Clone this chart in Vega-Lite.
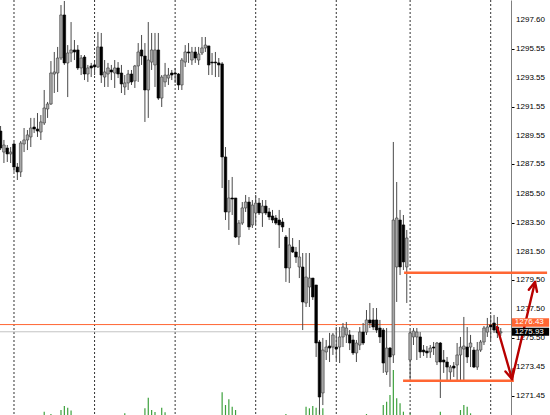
{
"$schema":"https://vega.github.io/schema/vega-lite/v6.json",
"width":511,"height":415,"autosize":"none","padding":{"left":0,"top":0,"bottom":0,"right":39},"background":"white",
"config":{"view":{"stroke":null}},
"datasets":{
"candles":[
{"i":-4,"o":1289.87,"h":1290.22,"l":1288.55,"c":1288.69},
{"i":-3,"o":1288.41,"h":1289.25,"l":1287.65,"c":1288.90},
{"i":-2,"o":1288.69,"h":1288.90,"l":1287.72,"c":1288.28},
{"i":-1,"o":1288.28,"h":1288.76,"l":1287.65,"c":1288.41},
{"i":0,"o":1288.97,"h":1289.11,"l":1287.03,"c":1287.37},
{"i":1,"o":1287.37,"h":1287.65,"l":1286.47,"c":1287.03},
{"i":2,"o":1287.03,"h":1289.18,"l":1286.68,"c":1289.04},
{"i":3,"o":1288.97,"h":1290.08,"l":1288.41,"c":1289.25},
{"i":4,"o":1289.25,"h":1289.94,"l":1288.55,"c":1289.60},
{"i":5,"o":1289.46,"h":1290.78,"l":1288.76,"c":1290.08},
{"i":6,"o":1290.15,"h":1290.78,"l":1289.73,"c":1290.01},
{"i":7,"o":1290.01,"h":1291.12,"l":1289.46,"c":1289.87},
{"i":8,"o":1289.80,"h":1290.98,"l":1289.25,"c":1290.50},
{"i":9,"o":1290.43,"h":1292.72,"l":1290.29,"c":1291.47},
{"i":10,"o":1291.40,"h":1291.89,"l":1290.78,"c":1291.75},
{"i":11,"o":1291.75,"h":1294.73,"l":1291.68,"c":1293.90},
{"i":12,"o":1293.83,"h":1295.36,"l":1292.51,"c":1293.97},
{"i":13,"o":1293.90,"h":1295.71,"l":1292.58,"c":1294.94},
{"i":14,"o":1294.94,"h":1298.62,"l":1294.80,"c":1297.93},
{"i":15,"o":1297.93,"h":1298.90,"l":1294.46,"c":1294.60},
{"i":16,"o":1294.60,"h":1295.84,"l":1292.23,"c":1295.29},
{"i":17,"o":1295.29,"h":1297.44,"l":1294.66,"c":1295.50},
{"i":18,"o":1295.50,"h":1296.19,"l":1294.80,"c":1295.36},
{"i":19,"o":1295.50,"h":1295.84,"l":1294.11,"c":1294.25},
{"i":20,"o":1294.25,"h":1295.15,"l":1293.76,"c":1294.94},
{"i":21,"o":1295.01,"h":1295.15,"l":1293.41,"c":1293.83},
{"i":22,"o":1293.83,"h":1294.46,"l":1293.28,"c":1294.25},
{"i":23,"o":1294.39,"h":1294.60,"l":1293.62,"c":1294.25},
{"i":24,"o":1294.46,"h":1294.66,"l":1293.76,"c":1294.32},
{"i":25,"o":1294.32,"h":1296.75,"l":1294.25,"c":1295.71},
{"i":26,"o":1295.71,"h":1296.68,"l":1293.21,"c":1293.76},
{"i":27,"o":1293.62,"h":1294.80,"l":1292.93,"c":1293.97},
{"i":28,"o":1293.83,"h":1294.60,"l":1292.93,"c":1294.25},
{"i":29,"o":1294.11,"h":1294.46,"l":1293.41,"c":1293.97},
{"i":30,"o":1293.90,"h":1294.80,"l":1292.86,"c":1294.25},
{"i":31,"o":1294.25,"h":1294.66,"l":1293.55,"c":1293.83},
{"i":32,"o":1293.90,"h":1294.46,"l":1292.51,"c":1293.14},
{"i":33,"o":1292.93,"h":1293.76,"l":1292.37,"c":1293.21},
{"i":34,"o":1293.21,"h":1294.11,"l":1292.72,"c":1293.83},
{"i":35,"o":1293.83,"h":1294.11,"l":1293.07,"c":1293.28},
{"i":36,"o":1293.35,"h":1294.46,"l":1292.86,"c":1294.39},
{"i":37,"o":1294.39,"h":1295.98,"l":1293.28,"c":1295.36},
{"i":38,"o":1295.50,"h":1296.54,"l":1294.46,"c":1295.08},
{"i":39,"o":1295.08,"h":1295.98,"l":1290.50,"c":1292.72},
{"i":40,"o":1292.72,"h":1297.44,"l":1290.78,"c":1294.80},
{"i":41,"o":1294.66,"h":1296.68,"l":1294.11,"c":1295.50},
{"i":42,"o":1294.46,"h":1296.68,"l":1292.93,"c":1295.50},
{"i":43,"o":1295.50,"h":1296.68,"l":1292.03,"c":1292.16},
{"i":44,"o":1292.16,"h":1293.76,"l":1291.54,"c":1293.62},
{"i":45,"o":1293.28,"h":1294.60,"l":1292.93,"c":1293.76},
{"i":46,"o":1293.55,"h":1294.25,"l":1293.07,"c":1293.76},
{"i":47,"o":1293.90,"h":1294.11,"l":1293.41,"c":1293.76},
{"i":48,"o":1293.90,"h":1294.25,"l":1293.21,"c":1293.83},
{"i":49,"o":1293.83,"h":1293.90,"l":1292.72,"c":1293.07},
{"i":50,"o":1293.07,"h":1294.94,"l":1292.72,"c":1294.80},
{"i":51,"o":1294.66,"h":1295.84,"l":1294.32,"c":1295.36},
{"i":52,"o":1295.36,"h":1295.98,"l":1294.60,"c":1295.29},
{"i":53,"o":1294.80,"h":1295.71,"l":1294.46,"c":1295.36},
{"i":54,"o":1295.36,"h":1295.71,"l":1294.60,"c":1294.94},
{"i":55,"o":1294.80,"h":1295.71,"l":1294.46,"c":1295.22},
{"i":56,"o":1295.29,"h":1296.40,"l":1295.15,"c":1295.64},
{"i":57,"o":1295.64,"h":1296.40,"l":1295.36,"c":1295.84},
{"i":58,"o":1295.78,"h":1295.78,"l":1293.76,"c":1294.46},
{"i":59,"o":1294.66,"h":1295.29,"l":1293.76,"c":1294.60},
{"i":60,"o":1294.66,"h":1295.36,"l":1293.62,"c":1294.60},
{"i":61,"o":1294.60,"h":1294.94,"l":1293.62,"c":1294.46},
{"i":62,"o":1294.53,"h":1294.66,"l":1285.91,"c":1288.07},
{"i":63,"o":1288.07,"h":1288.76,"l":1283.69,"c":1284.25},
{"i":64,"o":1284.25,"h":1286.47,"l":1283.00,"c":1285.22},
{"i":65,"o":1285.22,"h":1286.68,"l":1284.04,"c":1285.15},
{"i":66,"o":1285.22,"h":1285.22,"l":1282.44,"c":1282.51},
{"i":67,"o":1282.51,"h":1283.69,"l":1281.96,"c":1283.48},
{"i":68,"o":1283.48,"h":1284.94,"l":1283.35,"c":1284.53},
{"i":69,"o":1284.53,"h":1285.43,"l":1284.25,"c":1284.94},
{"i":70,"o":1284.94,"h":1285.29,"l":1283.00,"c":1283.21},
{"i":71,"o":1283.35,"h":1285.08,"l":1283.14,"c":1284.73},
{"i":72,"o":1284.18,"h":1285.43,"l":1283.35,"c":1284.87},
{"i":73,"o":1284.87,"h":1285.22,"l":1284.04,"c":1284.18},
{"i":74,"o":1284.18,"h":1285.08,"l":1283.21,"c":1284.66},
{"i":75,"o":1284.66,"h":1285.08,"l":1284.04,"c":1284.18},
{"i":76,"o":1284.25,"h":1284.53,"l":1283.69,"c":1283.90},
{"i":77,"o":1283.97,"h":1284.39,"l":1283.48,"c":1283.69},
{"i":78,"o":1283.83,"h":1284.04,"l":1283.35,"c":1283.48},
{"i":79,"o":1283.69,"h":1284.39,"l":1281.75,"c":1283.35},
{"i":80,"o":1283.55,"h":1283.83,"l":1282.86,"c":1283.21},
{"i":81,"o":1282.51,"h":1282.65,"l":1279.39,"c":1280.36},
{"i":82,"o":1280.36,"h":1283.14,"l":1279.32,"c":1281.96},
{"i":83,"o":1281.82,"h":1282.44,"l":1281.40,"c":1281.47},
{"i":84,"o":1281.47,"h":1281.82,"l":1280.71,"c":1281.12},
{"i":85,"o":1280.43,"h":1282.30,"l":1279.66,"c":1281.12},
{"i":86,"o":1280.43,"h":1281.40,"l":1276.05,"c":1278.00},
{"i":87,"o":1277.93,"h":1281.40,"l":1277.65,"c":1279.73},
{"i":88,"o":1279.04,"h":1281.40,"l":1277.65,"c":1279.66},
{"i":89,"o":1279.66,"h":1279.66,"l":1278.14,"c":1278.35},
{"i":90,"o":1279.18,"h":1279.18,"l":1274.18,"c":1275.15},
{"i":91,"o":1275.22,"h":1275.36,"l":1270.22,"c":1271.40},
{"i":92,"o":1271.68,"h":1275.50,"l":1270.84,"c":1274.66},
{"i":93,"o":1274.53,"h":1275.36,"l":1273.97,"c":1274.87},
{"i":94,"o":1274.94,"h":1275.85,"l":1273.83,"c":1274.80},
{"i":95,"o":1274.87,"h":1275.85,"l":1274.32,"c":1275.71},
{"i":96,"o":1274.87,"h":1276.26,"l":1273.97,"c":1274.73},
{"i":97,"o":1274.87,"h":1276.26,"l":1273.76,"c":1275.57},
{"i":98,"o":1275.57,"h":1276.54,"l":1274.87,"c":1276.26},
{"i":99,"o":1275.71,"h":1276.61,"l":1275.15,"c":1276.19},
{"i":100,"o":1275.71,"h":1276.05,"l":1274.66,"c":1275.15},
{"i":101,"o":1275.36,"h":1275.71,"l":1274.32,"c":1274.46},
{"i":102,"o":1274.46,"h":1275.36,"l":1273.83,"c":1275.15},
{"i":103,"o":1275.01,"h":1276.26,"l":1274.66,"c":1275.91},
{"i":104,"o":1275.91,"h":1276.54,"l":1275.01,"c":1275.15},
{"i":105,"o":1275.91,"h":1277.44,"l":1275.71,"c":1276.75},
{"i":106,"o":1276.75,"h":1277.93,"l":1276.19,"c":1276.54},
{"i":107,"o":1276.75,"h":1277.58,"l":1276.05,"c":1276.26},
{"i":108,"o":1276.75,"h":1277.58,"l":1275.85,"c":1276.05},
{"i":109,"o":1276.19,"h":1276.75,"l":1275.15,"c":1275.57},
{"i":110,"o":1276.05,"h":1276.19,"l":1273.07,"c":1273.76},
{"i":111,"o":1273.14,"h":1276.19,"l":1272.93,"c":1274.80},
{"i":112,"o":1274.80,"h":1274.87,"l":1272.10,"c":1274.18},
{"i":113,"o":1274.32,"h":1289.11,"l":1273.76,"c":1283.69},
{"i":114,"o":1280.43,"h":1286.33,"l":1278.00,"c":1283.83},
{"i":115,"o":1283.69,"h":1284.39,"l":1279.87,"c":1280.43},
{"i":116,"o":1283.35,"h":1284.04,"l":1280.22,"c":1280.78},
{"i":117,"o":1280.43,"h":1283.00,"l":1277.93,"c":1282.44},
{"i":118,"o":1273.97,"h":1276.05,"l":1272.44,"c":1275.85},
{"i":119,"o":1275.57,"h":1276.19,"l":1275.01,"c":1275.98},
{"i":120,"o":1275.57,"h":1276.19,"l":1273.97,"c":1275.91},
{"i":121,"o":1275.57,"h":1275.91,"l":1274.11,"c":1274.53},
{"i":122,"o":1274.66,"h":1275.01,"l":1274.25,"c":1274.53},
{"i":123,"o":1274.59,"h":1274.94,"l":1274.11,"c":1274.46},
{"i":124,"o":1274.53,"h":1275.01,"l":1274.11,"c":1274.80},
{"i":125,"o":1274.87,"h":1275.22,"l":1274.32,"c":1274.80},
{"i":126,"o":1273.83,"h":1275.22,"l":1273.62,"c":1275.15},
{"i":127,"o":1275.15,"h":1275.22,"l":1271.33,"c":1273.83},
{"i":128,"o":1273.97,"h":1274.66,"l":1273.07,"c":1273.83},
{"i":129,"o":1273.83,"h":1274.18,"l":1272.58,"c":1273.48},
{"i":130,"o":1273.14,"h":1273.62,"l":1272.58,"c":1273.48},
{"i":131,"o":1273.55,"h":1273.83,"l":1272.79,"c":1273.41},
{"i":132,"o":1273.62,"h":1275.15,"l":1272.58,"c":1274.32},
{"i":133,"o":1274.32,"h":1275.57,"l":1272.58,"c":1274.87},
{"i":134,"o":1274.73,"h":1276.96,"l":1272.58,"c":1274.94},
{"i":135,"o":1274.87,"h":1276.26,"l":1273.76,"c":1274.18},
{"i":136,"o":1274.87,"h":1275.71,"l":1273.48,"c":1275.15},
{"i":137,"o":1274.66,"h":1274.87,"l":1273.41,"c":1273.48},
{"i":138,"o":1273.48,"h":1275.22,"l":1273.28,"c":1274.66},
{"i":139,"o":1274.66,"h":1275.36,"l":1274.53,"c":1275.22},
{"i":140,"o":1275.22,"h":1276.33,"l":1275.01,"c":1276.19},
{"i":141,"o":1275.91,"h":1276.89,"l":1275.57,"c":1276.26},
{"i":142,"o":1276.40,"h":1277.10,"l":1275.36,"c":1276.26},
{"i":143,"o":1276.54,"h":1277.10,"l":1275.85,"c":1276.05},
{"i":144,"o":1276.26,"h":1276.96,"l":1275.50,"c":1275.85},
{"i":145,"o":1275.85,"h":1276.19,"l":1275.64,"c":1275.93}
],
"vol":[
{"i":9,"v":3.3},{"i":11,"v":1},{"i":14,"v":5},{"i":15,"v":9},{"i":16,"v":7.3},{"i":17,"v":4.5},{"i":33,"v":1.7},{"i":39,"v":6.7},{"i":40,"v":17.3},{"i":41,"v":5},{"i":42,"v":3},{"i":44,"v":7.3},{"i":45,"v":2.7},{"i":62,"v":22.7},{"i":63,"v":10},{"i":64,"v":15.7},{"i":65,"v":8.3},{"i":66,"v":5},{"i":81,"v":1},{"i":87,"v":8.3},{"i":88,"v":6.7},{"i":89,"v":9},{"i":90,"v":7.3},{"i":91,"v":5},{"i":92,"v":6.7},{"i":105,"v":1},{"i":110,"v":10},{"i":111,"v":13.3},{"i":112,"v":20},{"i":113,"v":45},{"i":114,"v":16.7},{"i":115,"v":11.7},{"i":116,"v":3.3},{"i":118,"v":1.7},{"i":127,"v":3.3},{"i":133,"v":5},{"i":134,"v":10},{"i":135,"v":8.3},{"i":136,"v":1.7}
],
"seps":[{"i":0},{"i":24},{"i":48},{"i":72},{"i":96},{"i":118},{"i":142}],
"levels":[{"p":1297.60},{"p":1295.55},{"p":1293.55},{"p":1291.55},{"p":1289.55},{"p":1287.55},{"p":1285.50},{"p":1283.50},{"p":1281.50},{"p":1279.50},{"p":1277.50},{"p":1275.50},{"p":1273.45},{"p":1271.45}],
"ask":[{"p":1276.43}],
"bid":[{"p":1275.93}],
"zones":[{"x1":116.2,"x2":158.8,"p":1280.03},{"x1":115.9,"x2":148.9,"p":1272.53}],
"arrow":[
{"x1":143.9,"y1":1276.26,"x2":148.35,"y2":1272.65},
{"x1":148.35,"y1":1272.65,"x2":155.2,"y2":1279.39},
{"x1":155.2,"y1":1279.39,"x2":153.35,"y2":1278.85},
{"x1":155.2,"y1":1279.39,"x2":155.8,"y2":1278.71},
{"x1":148.35,"y1":1272.65,"x2":148.8,"y2":1273.34},
{"x1":148.35,"y1":1272.65,"x2":146.4,"y2":1273.17}
],
"tags":[
{"label":"1276.43","mid":1276.575,"top":1276.87,"bot":1276.28,"x1":148.3,"x2":159.4,"tx":149.2},
{"label":"1275.93","mid":1275.93,"top":1276.21,"bot":1275.66,"x1":148.3,"x2":159.4,"tx":149.2}
]
},
"resolve":{"scale":{"y":"independent"}},
"layer":[
{"data":{"name":"vol"},
 "mark":{"type":"bar","width":1.2,"color":"#3da13d","orient":"vertical"},
 "encoding":{
  "x":{"field":"i","type":"quantitative","scale":{"domain":[-4.17,148.05],"nice":false,"zero":false,"padding":0},"axis":null},
  "y":{"field":"v","type":"quantitative","scale":{"domain":[0,415],"nice":false,"padding":0},"axis":null}}},
{"layer":[
 {"data":{"name":"seps"},
  "mark":{"type":"rule","color":"#333333","strokeWidth":1,"strokeDash":[2,2]},
  "encoding":{"x":{"field":"i","type":"quantitative","scale":{"domain":[-4.17,148.05],"nice":false,"zero":false,"padding":0},"axis":null}}},
 {"data":{"name":"ask"},
  "mark":{"type":"rule","color":"#ff6633","strokeWidth":1},
  "encoding":{"y":{"field":"p","type":"quantitative","title":null}}},
 {"data":{"name":"bid"},
  "mark":{"type":"rule","color":"#c4c4c4","strokeWidth":1},
  "encoding":{"y":{"field":"p","type":"quantitative","title":null}}},
 {"data":{"name":"candles"},
  "mark":{"type":"rule","color":"#4a4a4a","strokeWidth":1},
  "encoding":{
   "x":{"field":"i","type":"quantitative","axis":null},
   "y":{"field":"l","type":"quantitative","title":null,"scale":{"domain":[1270.15,1298.97],"nice":false,"zero":false,"padding":0},
        "axis":{"orient":"right","title":null,"values":[1297.60,1295.55,1293.55,1291.55,1289.55,1287.55,1285.50,1283.50,1281.50,1279.50,1277.50,1275.50,1273.45,1271.45],"labels":false,"grid":false,"domainColor":"#7f7f7f","domainWidth":1,"tickColor":"#000000","tickSize":3,"tickWidth":1}},
   "y2":{"field":"h"}}},
 {"data":{"name":"candles"},
  "mark":{"type":"bar","width":2.6,"orient":"vertical","strokeWidth":0.6},
  "encoding":{
   "x":{"field":"i","type":"quantitative","axis":null},
   "y":{"field":"o","type":"quantitative","title":null},
   "y2":{"field":"c"},
   "fill":{"condition":{"test":"datum.c >= datum.o","value":"#a8a8a8"},"value":"#000000"},
   "stroke":{"condition":{"test":"datum.c >= datum.o","value":"#3a3a3a"},"value":"#000000"}}},
 {"data":{"name":"zones"},
  "mark":{"type":"rule","color":"#ff6633","strokeWidth":2.6},
  "encoding":{
   "x":{"field":"x1","type":"quantitative","axis":null},
   "x2":{"field":"x2"},
   "y":{"field":"p","type":"quantitative","title":null}}},
 {"data":{"name":"levels"},
  "mark":{"type":"text","align":"left","baseline":"middle","font":"Liberation Sans","fontSize":8,"color":"#000000"},
  "encoding":{
   "x":{"datum":149.55,"type":"quantitative","axis":null},
   "y":{"field":"p","type":"quantitative","title":null},
   "text":{"field":"p","type":"quantitative","format":".2f"}}},
 {"data":{"name":"arrow"},
  "mark":{"type":"rule","color":"#b80000","strokeWidth":2.4,"strokeCap":"round"},
  "encoding":{
   "x":{"field":"x1","type":"quantitative","axis":null},
   "x2":{"field":"x2"},
   "y":{"field":"y1","type":"quantitative","title":null},
   "y2":{"field":"y2"}}},
 {"data":{"name":"tags"},
  "mark":{"type":"rect"},
  "encoding":{
   "x":{"field":"x1","type":"quantitative","axis":null},
   "x2":{"field":"x2"},
   "y":{"field":"top","type":"quantitative","title":null},
   "y2":{"field":"bot"},
   "color":{"field":"label","type":"nominal","scale":{"domain":["1276.43","1275.93"],"range":["#ff6633","#000000"]},"legend":null}}},
 {"data":{"name":"tags"},
  "mark":{"type":"text","align":"left","baseline":"middle","font":"Liberation Sans","fontSize":8,"color":"#ffffff"},
  "encoding":{
   "x":{"field":"tx","type":"quantitative","axis":null},
   "y":{"field":"mid","type":"quantitative","title":null},
   "text":{"field":"label","type":"nominal"}}}
]}
]
}
